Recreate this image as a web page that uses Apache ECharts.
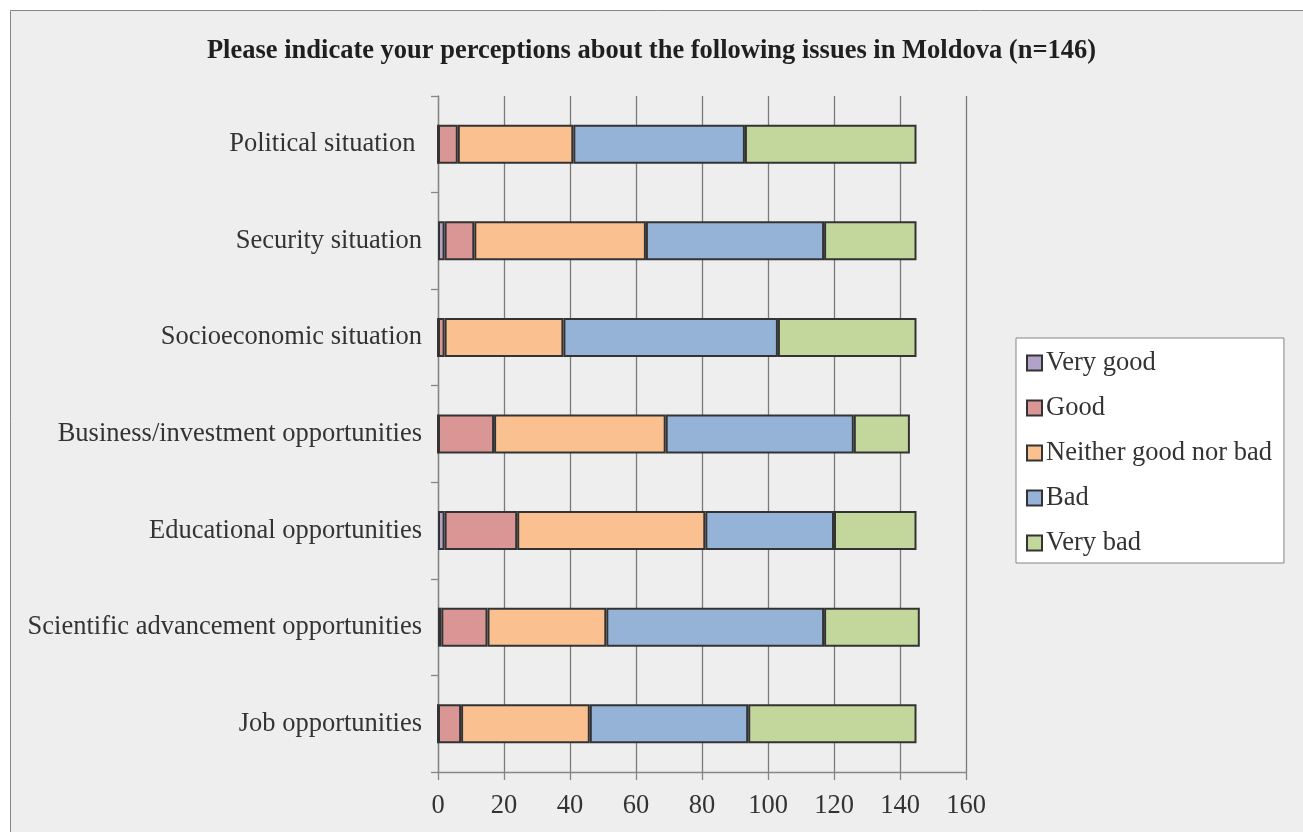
<!DOCTYPE html>
<html>
<head>
<meta charset="utf-8">
<title>Perceptions about issues in Moldova</title>
<script src="https://cdn.jsdelivr.net/npm/echarts@6/dist/echarts.min.js"></script>
<style>
  html, body { margin: 0; padding: 0; background: #ffffff; }
  #chart { width: 1303px; height: 832px; }
</style>
</head>
<body>
<div id="chart"></div>
<script>
// Survey issues, top to bottom
const categories = [
  'Political situation ',
  'Security situation',
  'Socioeconomic situation',
  'Business/investment opportunities',
  'Educational opportunities',
  'Scientific advancement opportunities',
  'Job opportunities'
];

// Number of respondents per answer, in the same order as the issues
const veryGood = [0, 2, 0, 0, 2, 1, 0];
const good     = [6, 9, 2, 17, 22, 14, 7];
const neither  = [35, 52, 36, 52, 57, 36, 39];
const bad      = [52, 54, 65, 57, 39, 66, 48];
const veryBad  = [52, 28, 42, 17, 25, 29, 51];

const seriesNames = ['Very good', 'Good', 'Neither good nor bad', 'Bad', 'Very bad'];
const seriesValues = [veryGood, good, neither, bad, veryBad];
const seriesColors = ['#B3A2C7', '#D99694', '#FAC090', '#95B3D7', '#C3D69B'];

const xTicks = [0, 20, 40, 60, 80, 100, 120, 140, 160];

const serif = "'Liberation Serif', 'Times New Roman', serif";
const textSize = 26.5;

const chart = echarts.init(document.getElementById('chart'));

chart.setOption({
  backgroundColor: '#ffffff',
  animation: false,
  graphic: [{
    type: 'rect',
    z: -10,
    silent: true,
    shape: { x: 10.5, y: 10.5, width: 1310, height: 840 },
    style: { fill: '#eeeeee', stroke: '#858585', lineWidth: 1 }
  }],
  title: {
    text: 'Please indicate your perceptions about the following issues in Moldova (n=146)',
    left: 'center',
    top: 33,
    textStyle: { fontFamily: serif, fontWeight: 'bold', fontSize: textSize, color: '#1f1f1f' }
  },
  legend: {
    orient: 'vertical',
    left: 1016,
    top: 338,
    backgroundColor: '#ffffff',
    borderColor: '#858585',
    borderWidth: 1,
    padding: [10, 12, 5, 10],
    itemWidth: 15,
    itemHeight: 15,
    itemGap: 15,
    icon: 'rect',
    data: seriesNames,
    textStyle: { fontFamily: serif, fontSize: textSize, color: '#333333', lineHeight: 30, padding: [0, 0, 0, -1] }
  },
  grid: { left: 438, right: 337, top: 96, bottom: 60, containLabel: false },
  xAxis: {
    type: 'value',
    min: xTicks[0],
    max: xTicks[xTicks.length - 1],
    interval: xTicks[1] - xTicks[0],
    axisLine: { show: true, lineStyle: { color: '#868686', width: 1.3 } },
    axisTick: { show: true, length: 8, lineStyle: { color: '#868686', width: 1.3 } },
    splitLine: { show: true, lineStyle: { color: '#7a7a7a', width: 1.3 } },
    axisLabel: { margin: 21, fontFamily: serif, fontSize: textSize, color: '#333333' }
  },
  yAxis: {
    type: 'category',
    inverse: true,
    data: categories,
    axisLine: { show: true, lineStyle: { color: '#868686', width: 1.3 } },
    axisTick: { show: true, length: 7, lineStyle: { color: '#868686', width: 1.3 } },
    axisLabel: { margin: 16, fontFamily: serif, fontSize: textSize, color: '#333333' }
  },
  series: seriesNames.map((name, i) => ({
    name: name,
    type: 'bar',
    stack: 'total',
    barWidth: 39,
    data: seriesValues[i],
    itemStyle: { color: seriesColors[i], borderColor: '#333333', borderWidth: 2 }
  }))
});
</script>
</body>
</html>
